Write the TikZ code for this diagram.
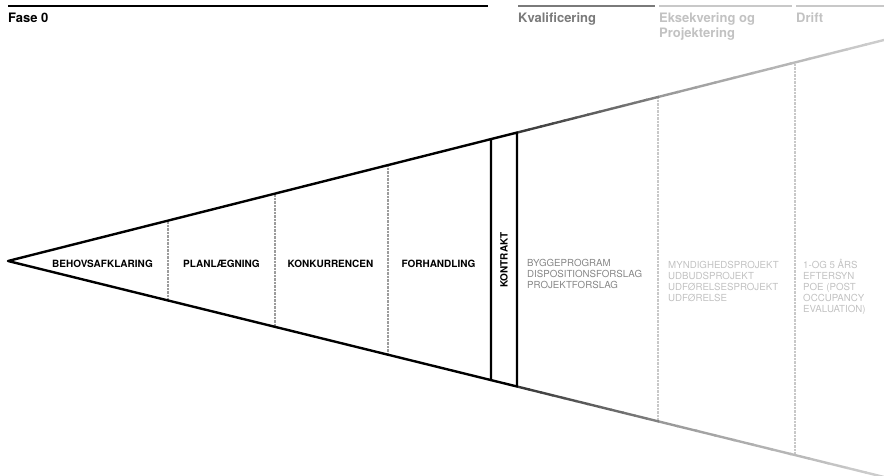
\documentclass[tikz,border=0pt]{standalone}
\usepackage{fontspec}
\setmainfont{TeX Gyre Heros}
\usetikzlibrary{calc}
\definecolor{kvalgrey}{HTML}{7A7A7A}
\definecolor{paleline}{HTML}{C8C8C8}
\definecolor{textgrey}{HTML}{878787}
\definecolor{paletext}{HTML}{C2C2C2}
\definecolor{dotgrey}{HTML}{9C9C9C}
\tikzstyle{phase} = [anchor=base, font=\bfseries\fontsize{10}{12}\selectfont, inner sep=0pt]
\tikzstyle{header} = [anchor=base west, align=left, font=\bfseries\fontsize{13}{14.5}\selectfont, inner sep=0pt]
\tikzstyle{item} = [anchor=base west, font=\fontsize{9.7}{11}\selectfont, inner sep=0pt]
\tikzstyle{divider} = [line width=1.6pt, dash pattern=on 0.7pt off 0.7pt]
\tikzstyle{edge} = [line width=2.4pt, line join=round]
\tikzstyle{bar} = [line width=2.6pt]

\begin{document}
\begin{tikzpicture}[x=1pt,y=-1pt]
\useasboundingbox (0,0) rectangle (884,476);

% corners of the funnel
\coordinate (tip) at (8,261);
\coordinate (c1t) at (491,139.1);
\coordinate (c1b) at (491,380.1);
\coordinate (c2t) at (517,132.6);
\coordinate (c2b) at (517,386.5);
\coordinate (k2t) at (658,97);
\coordinate (k2b) at (658,421.3);
\coordinate (e2t) at (795,62.4);
\coordinate (e2b) at (795,455.1);
\coordinate (dt) at (884,40);
\coordinate (db) at (884,477);

% dividers
\coordinate (d1t) at (168,220.6);
\coordinate (d1b) at (168,300.5);
\coordinate (d2t) at (275,193.6);
\coordinate (d2b) at (275,326.8);
\coordinate (d3t) at (388,165.1);
\coordinate (d3b) at (388,354.7);

\draw [divider, dotgrey] (d1t) -- (d1b);
\draw [divider, dotgrey] (d2t) -- (d2b);
\draw [divider, dotgrey] (d3t) -- (d3b);
\draw [divider, paleline] (k2t) -- (k2b);
\draw [divider, paleline] (e2t) -- (e2b);

% fading edges
\foreach \i in {0,...,11} {
  \pgfmathtruncatemacro\shadeval{78-2.5*\i}
  \draw [edge, black!\shadeval] ($(c2t)!\i/12!(k2t)$) -- ($(c2t)!\i/12+0.09!(k2t)$);
  \draw [edge, black!\shadeval] ($(c2b)!\i/12!(k2b)$) -- ($(c2b)!\i/12+0.09!(k2b)$);
  \pgfmathtruncatemacro\paleval{40-1.8*\i}
  \draw [edge, black!\paleval] ($(k2t)!\i/12!(dt)$) -- ($(k2t)!\i/12+0.09!(dt)$);
  \draw [edge, black!\paleval] ($(k2b)!\i/12!(db)$) -- ($(k2b)!\i/12+0.09!(db)$);
}

\draw [edge] (c1t) -- (tip) -- (c1b);
\draw [edge] (c1t) -- (c2t) -- (c2b) -- (c1b) -- cycle;

% phase labels
\node (behov) [phase] at (102.5,267) {BEHOVSAFKLARING};
\node (plan) [phase] at (221.5,267) {PLANLÆGNING};
\node (konk) [phase] at (330.5,267) {KONKURRENCEN};
\node (forh) [phase] at (438.5,267) {FORHANDLING};
\node (kontrakt) [phase, anchor=center, rotate=90] at (504,260) {KONTRAKT};

\foreach \t [count=\i] in {BYGGEPROGRAM, DISPOSITIONSFORSLAG, PROJEKTFORSLAG}
  \node (kval-\i) [item, textgrey] at (527,255.5+11*\i) {\t};
\foreach \t [count=\i] in {MYNDIGHEDSPROJEKT, UDBUDSPROJEKT, UDFØRELSESPROJEKT, UDFØRELSE}
  \node (eks-\i) [item, paletext] at (668,257+11*\i) {\t};
\foreach \t [count=\i] in {{1-OG 5 ÅRS}, EFTERSYN, {POE (POST}, OCCUPANCY, {EVALUATION)}}
  \node (drift-\i) [item, paletext] at (803,257+11*\i) {\t};

% header bars
\draw [bar] (8,6) -- (488,6);
\draw [bar, kvalgrey] (518,6) -- (655,6);
\draw [bar, paleline] (659,6) -- (792,6);
\draw [bar, paleline] (796,6) -- (884,6);

\node (fase) [header] at (8,22.5) {Fase 0};
\node (kvalhead) [header, kvalgrey] at (518,22.5) {Kvalificering};
\node (ekshead) [header, paletext, anchor=north west] at (659,13) {Eksekvering og\\Projektering};
\node (drifthead) [header, paletext] at (796,22.5) {Drift};

\end{tikzpicture}
\end{document}
